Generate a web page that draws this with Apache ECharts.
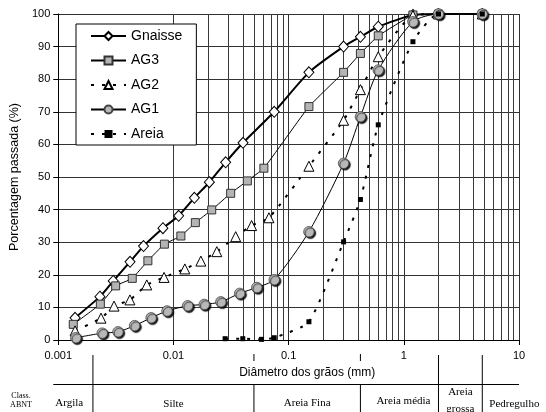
<!DOCTYPE html>
<html><head><meta charset="utf-8">
<script src="https://cdn.jsdelivr.net/npm/echarts@6/dist/echarts.min.js"></script>
<style>html,body{margin:0;padding:0;background:#fff}#c{width:546px;height:412px}</style>
</head><body><div id="c"></div>
<script>
// ---- data (grain diameter in mm, percent passing) ----
const xTickLabels = ['0.001', '0.01', '0.1', '1', '10'];
const seriesNames = ['Gnaisse', 'AG3', 'AG2', 'AG1', 'Areia'];

const gnaisseD = [0.0014, 0.0023, 0.0030, 0.0042, 0.0055, 0.0081, 0.0111, 0.0152, 0.0205, 0.0284, 0.0402, 0.075, 0.15, 0.3, 0.42, 0.6, 1.2, 2.0, 4.8];
const gnaisseP = [6.8, 13.3, 18.1, 24.0, 28.8, 34.3, 38.1, 43.6, 48.4, 54.5, 60.5, 70.0, 82.1, 90.0, 93.0, 96.1, 99.7, 100, 100];

const ag3D = [0.00135, 0.00232, 0.00315, 0.00439, 0.0060, 0.00835, 0.0116, 0.0155, 0.0215, 0.0314, 0.0438, 0.061, 0.15, 0.3, 0.42, 0.6, 1.2, 2.0, 4.8];
const ag3P = [4.8, 11.0, 16.6, 18.9, 24.3, 29.4, 31.9, 36.0, 39.9, 45.0, 48.8, 52.7, 71.6, 82.1, 87.9, 93.3, 99.7, 100, 100];

const ag2D = [0.0014, 0.00235, 0.00305, 0.00419, 0.00587, 0.00829, 0.01256, 0.0173, 0.0238, 0.0347, 0.0477, 0.0675, 0.15, 0.3, 0.42, 0.6, 1.2, 2.0, 4.8];
const ag2P = [2.8, 6.7, 10.4, 12.3, 16.9, 19.2, 21.8, 24.2, 27.1, 31.7, 35.1, 37.5, 53.3, 67.4, 76.8, 86.9, 99.5, 100, 100];

const ag1D = [0.00142, 0.00241, 0.0033, 0.0046, 0.0064, 0.0088, 0.0133, 0.0185, 0.0258, 0.0376, 0.0529, 0.075, 0.15, 0.3, 0.42, 0.6, 1.2, 2.0, 4.8];
const ag1P = [0.7, 2.1, 2.5, 4.4, 6.8, 8.9, 10.5, 10.9, 11.7, 14.3, 16.1, 18.5, 33.2, 54.2, 68.5, 82.8, 97.6, 100, 100];

const areiaD = [0.0281, 0.0400, 0.0582, 0.075, 0.15, 0.3, 0.42, 0.6, 1.2, 2.0, 4.8];
const areiaP = [0.4, 0.4, 0.2, 0.7, 5.6, 30.1, 43.1, 66.0, 91.5, 100, 100];

// ABNT classification (boundaries in mm)
const classBounds = [0.002, 0.05, 0.42, 2.0, 4.8];
const classNames = ['Argila', 'Silte', 'Areia Fina', 'Areia média', 'Areia\ngrossa', 'Pedregulho'];

// ---- build ----
function zip(d, p) { return d.map((x, i) => [x, p[i]]); }
const F = 'Liberation Sans, Arial, sans-serif';
const SERIF = 'Liberation Serif, Times New Roman, serif';
const minorGrid = [];
for (let e = -3; e < 1; e++) for (let k = 2; k <= 9; k++) minorGrid.push(+(k * Math.pow(10, e)).toPrecision(3));

const chart = echarts.init(document.getElementById('c'), null, { renderer: 'canvas' });

const option = {
  animation: false,
  backgroundColor: '#fff',
  grid: { left: 55, top: 14, right: 27, bottom: 72 },
  legend: {
    data: seriesNames,
    orient: 'vertical',
    left: 76, top: 24,
    padding: [5, 14, 4, 14],
    itemGap: 10.5,
    itemWidth: 35, itemHeight: 10,
    backgroundColor: '#fff',
    borderColor: '#000', borderWidth: 1,
    textStyle: { fontSize: 14, color: '#000', fontFamily: F, lineHeight: 14 },
    selectedMode: false,
    z: 10
  },
  xAxis: {
    type: 'log', logBase: 10, min: 0.001, max: 10,
    axisLine: { lineStyle: { color: '#000', width: 1 } },
    axisTick: { show: true, length: 5, lineStyle: { color: '#000' } },
    axisLabel: {
      fontSize: 11, color: '#000', fontFamily: F, margin: 10,
      formatter: function (v) { return xTickLabels[Math.round(Math.log10(v)) + 3]; }
    },
    splitLine: { show: true, lineStyle: { color: '#333', width: 1 } }
  },
  yAxis: {
    type: 'value', min: 0, max: 100, interval: 10,
    name: 'Porcentagem passada (%)', nameLocation: 'middle', nameGap: 32, nameRotate: 90,
    nameTextStyle: { fontSize: 12.5, color: '#000', fontFamily: F },
    axisLine: { show: true, lineStyle: { color: '#000', width: 1 } },
    axisTick: { show: true, length: 5, lineStyle: { color: '#000' } },
    axisLabel: { fontSize: 11, color: '#000', fontFamily: F, margin: 8 },
    splitLine: { show: true, lineStyle: { color: '#333', width: 1 } }
  },
  series: [
    {
      name: 'Gnaisse', type: 'line', data: zip(gnaisseD, gnaisseP), smooth: 0.2,
      symbol: 'diamond', symbolSize: [10, 11],
      lineStyle: { color: '#000', width: 2 },
      itemStyle: { color: '#fff', borderColor: '#000', borderWidth: 1 },
      markLine: {
        silent: true, symbol: ['none', 'none'], z: 1, animation: false,
        label: { show: false },
        lineStyle: { color: '#3a3a3a', width: 1, type: 'solid' },
        emphasis: { disabled: true },
        data: minorGrid.map(v => ({ xAxis: v }))
      }
    },
    {
      name: 'AG3', type: 'line', data: zip(ag3D, ag3P), smooth: 0.1,
      symbol: 'rect', symbolSize: 8,
      lineStyle: { color: '#000', width: 1 },
      itemStyle: { color: '#b4b4b4', borderColor: '#333', borderWidth: 1 }
    },
    {
      name: 'AG2', type: 'line', data: zip(ag2D, ag2P), smooth: 0.2,
      symbol: 'triangle', symbolSize: 10,
      lineStyle: { color: '#000', width: 2, type: [3, 8] },
      itemStyle: { color: '#fff', borderColor: '#000', borderWidth: 1 }
    },
    {
      name: 'AG1', type: 'line', data: zip(ag1D, ag1P), smooth: 0.25,
      symbol: 'circle', symbolSize: 10.5,
      lineStyle: { color: '#000', width: 1, shadowBlur: 0 },
      itemStyle: { color: '#b8b8b8', borderColor: '#444', borderWidth: 0.8,
        shadowColor: 'rgba(0,0,0,0.9)', shadowBlur: 1, shadowOffsetX: 1.5, shadowOffsetY: 1.5 }
    },
    {
      name: 'Areia', type: 'line', data: zip(areiaD, areiaP), smooth: 0.2,
      symbol: 'rect', symbolSize: 5,
      lineStyle: { color: '#000', width: 2, type: [3, 8] },
      itemStyle: { color: '#000', borderColor: '#000', borderWidth: 0 }
    }
  ]
};
chart.setOption(option);

// ---- ABNT classification table beneath the axis ----
const px = v => chart.convertToPixel({ xAxisIndex: 0 }, v);
const b = classBounds.map(px);
const x0 = px(0.001), x1 = px(10);
const H = 412, rowY = 384.5;
const g = [];
const ln = (xa, ya, xb, yb) => g.push({ type: 'line', silent: true, shape: { x1: xa, y1: ya, x2: xb, y2: yb }, style: { stroke: '#000', lineWidth: 1 } });
ln(x0 - 5, rowY, x1, rowY);
ln(b[0], 355, b[0], H);
ln(b[1], 354, b[1], 361); ln(b[1], rowY, b[1], H);
ln(b[2], 354, b[2], 361); ln(b[2], rowY, b[2], H);
ln(b[3], 355, b[3], H);
ln(b[4], 355, b[4], H);

// axis title centred in the gap between the broken separators
g.push({ type: 'text', silent: true, x: (b[1] + b[2]) / 2, y: 373,
  style: { text: 'Diâmetro dos grãos (mm)', font: '12px ' + F, fill: '#000', align: 'center', verticalAlign: 'middle' } });

const tx = (t, x, y, size, align) => g.push({ type: 'text', silent: true, x: x, y: y,
  style: { text: t, font: size + 'px ' + SERIF, fill: '#000', align: align || 'center', verticalAlign: 'middle', lineHeight: size + 6 } });
tx('Class.', 21, 396, 8);
tx('ABNT', 21, 404.5, 8);
tx(classNames[0], x0 - 3, 403, 11, 'left');
tx(classNames[1], (b[0] + b[1]) / 2, 404, 11);
tx(classNames[2], (b[1] + b[2]) / 2, 403, 11);
tx(classNames[3], (b[2] + b[3]) / 2 + 4, 401, 11);
tx(classNames[4], (b[3] + b[4]) / 2, 401, 11);
tx(classNames[5], b[4] + 7, 404, 11, 'left');

chart.setOption({ graphic: g });
</script>
</body></html>
